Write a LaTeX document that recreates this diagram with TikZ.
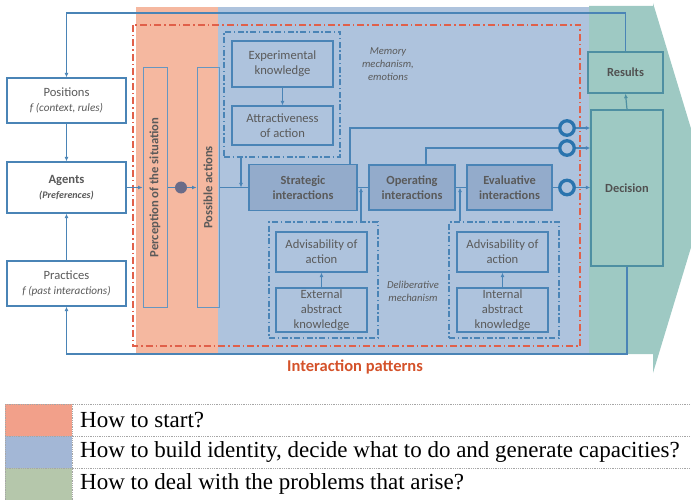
\documentclass[tikz,border=0pt]{standalone}
\usepackage{fontspec}
\setmainfont{Carlito}
\newfontfamily\legendfont{Liberation Serif}
\usetikzlibrary{arrows.meta}
\definecolor{bgorange}{HTML}{F5B8A0}
\definecolor{bgblue}{HTML}{AEC3DD}
\definecolor{bggreen}{HTML}{9EC9C3}
\definecolor{lineblue}{HTML}{4A84B6}
\definecolor{darkblue}{HTML}{2A74AE}
\definecolor{boxdark}{HTML}{93ABCB}
\definecolor{txtgray}{HTML}{5A5A5A}
\definecolor{redline}{HTML}{E0604A}
\definecolor{tealline}{HTML}{4E8FA2}
\definecolor{dotcol}{HTML}{6A6B88}
\definecolor{legorange}{HTML}{F2A08A}
\definecolor{legblue}{HTML}{A3B7D6}
\definecolor{leggreen}{HTML}{B5C7AB}
\definecolor{patterncol}{HTML}{D4522A}
\tikzset{
  box/.style={draw=lineblue, line width=1.3, inner sep=0, align=center, text=txtgray,
    font=\fontsize{12.6}{15}\selectfont},
  whitebox/.style={box, fill=white},
  darkbox/.style={box, fill=boxdark, line width=1.6, font=\bfseries\fontsize{12.4}{14.5}\selectfont},
  tealbox/.style={draw=tealline, line width=1.3, inner sep=0, text=txtgray!90!black,
    font=\bfseries\fontsize{12.4}{14}\selectfont},
  tallbox/.style={draw=lineblue!85, line width=1, inner sep=0},
  rottext/.style={rotate=90, text=txtgray, font=\bfseries\fontsize{12.6}{14}\selectfont},
  dashbox/.style={draw=lineblue, line width=1.1, dash pattern=on 6pt off 2.5pt on 1.5pt off 2.5pt, inner sep=0},
  note/.style={align=center, text=txtgray, font=\itshape\fontsize{10.6}{13}\selectfont},
  conn/.style={draw=lineblue, line width=1.2},
  arr/.style={conn, -{Latex[length=4.5pt,width=4pt]}},
  ring/.style={circle, draw=darkblue, line width=3.3, fill=bgblue, minimum size=14.5, inner sep=0},
  swatch/.style={inner sep=0, minimum width=67, minimum height=32},
  legtext/.style={anchor=west, inner sep=0, font=\legendfont\fontsize{23}{25}\selectfont},
  legline/.style={draw=gray!70, densely dotted, line width=0.8},
}
\begin{document}
\begin{tikzpicture}[x=1pt,y=-1pt]
\useasboundingbox (0,0) rectangle (691,500);
% backgrounds
\begin{scope}
\clip (0,0) rectangle (691,500);
\fill[bggreen] (589,6) -- (653,6) -- (653,3) -- (709,188) -- (653,373) -- (653,354) -- (589,354) -- cycle;
\end{scope}
\fill[bgorange] (136,7) rectangle (218,354);
\fill[bgblue] (218,7) rectangle (589,354);
\draw[redline, line width=1.1, dash pattern=on 7pt off 3pt on 1.5pt off 3pt] (133,25) rectangle (580,346);

% dashed groups
\node[dashbox, minimum width=116, minimum height=125] (mem) at (282,94.5) {};
\node[dashbox, minimum width=109, minimum height=116] (delL) at (323.5,280) {};
\node[dashbox, minimum width=110, minimum height=116] (delR) at (504,280) {};

% left boxes
\node[whitebox, minimum width=119, minimum height=45] (pos) at (66.5,100.5)
  {Positions\\{\itshape\fontsize{11.2}{13}\selectfont f (context, rules)}};
\node[whitebox, minimum width=119, minimum height=51] (agents) at (66.5,187.5)
  {\textbf{Agents}\\{\bfseries\itshape\fontsize{10}{13}\selectfont (Preferences)}};
\node[whitebox, minimum width=119, minimum height=45] (prac) at (66.5,283.5)
  {Practices\\{\itshape\fontsize{11.2}{13}\selectfont f (past interactions)}};

% tall boxes
\node[tallbox, minimum width=24, minimum height=239] (perc) at (155,187.5) {};
\node[rottext] (percT) at (perc.center) {Perception of the situation};
\node[tallbox, minimum width=22, minimum height=239] (poss) at (208,187.5) {};
\node[rottext] (possT) at (poss.center) {Possible actions};
\node[circle, fill=dotcol, minimum size=12, inner sep=0] (dot) at (181,187.5) {};

% memory group
\node[box, minimum width=101, minimum height=46] (exp) at (282.5,64) {Experimental\\knowledge};
\node[box, minimum width=101, minimum height=39] (attr) at (282.5,125.5) {Attractiveness\\of action};
\node[note] (memT) at (388,64) {Memory\\mechanism,\\emotions};

% interactions
\node[darkbox, minimum width=108, minimum height=46] (strat) at (303,187.5) {Strategic\\interactions};
\node[darkbox, minimum width=86, minimum height=45] (oper) at (412,187.5) {Operating\\interactions};
\node[darkbox, minimum width=85, minimum height=45] (eval) at (509.5,187.5) {Evaluative\\interactions};

% deliberative groups
\node[box, minimum width=91, minimum height=40] (advL) at (321.5,252) {Advisability of\\action};
\node[box, minimum width=91, minimum height=44] (ext) at (321.5,310) {External\\abstract\\knowledge};
\node[box, minimum width=91, minimum height=40] (advR) at (502.5,252) {Advisability of\\action};
\node[box, minimum width=91, minimum height=44] (int) at (502.5,310) {Internal\\abstract\\knowledge};
\node[note] (delT) at (413,291) {Deliberative\\mechanism};

% right boxes
\node[tealbox, minimum width=72, minimum height=156] (dec) at (627,188) {Decision};
\node[tealbox, minimum width=75, minimum height=41] (res) at (625.5,72.5) {Results};

% rings
\node[ring] (c1) at (567,128) {};
\node[ring] (c2) at (567,148) {};
\node[ring] (c3) at (567,187.5) {};

% title
\node[text=patterncol, font=\bfseries\fontsize{16.5}{18}\selectfont] (title) at (355,367) {Interaction patterns};

% coordinates
\coordinate (tr) at (625.5,13);
\coordinate (tl) at (66.5,13);
\coordinate (br) at (627,354);
\coordinate (bl) at (66.5,354);
\coordinate (m1) at (241,187.5);
\coordinate (s1) at (361,187.5);
\coordinate (s2) at (460,187.5);
\coordinate (st) at (350,128);
\coordinate (ot) at (426,148);

% connectors
\draw[arr] (res.north) -- (tr) -- (tl) -- (pos.north);
\draw[arr] (dec.south) -- (br) -- (bl) -- (prac.south);
\draw[arr] (pos.south) -- (agents.north);
\draw[arr] (prac.north) -- (agents.south);
\draw[arr] (agents.east) -- (perc.west);
\draw[conn] (perc.east) -- (dot);
\draw[arr] (dot) -- (poss.west);
\draw[conn] (poss.east) -- (strat.west);
\draw[arr] (m1 |- mem.south) -- (m1);
\draw[arr] (exp.south) -- (attr.north);
\draw[conn] (strat.east) -- (oper.west);
\draw[conn] (oper.east) -- (eval.west);
\draw[arr] (s1 |- delL.north) -- (s1);
\draw[arr] (s2 |- delR.north) -- (s2);
\draw[arr] (ext.north) -- (advL.south);
\draw[arr] (int.north) -- (advR.south);
\draw[conn, line width=1.5] (st |- strat.north) -- (st) -- (c1.west);
\draw[conn, line width=1.5] (ot |- oper.north) -- (ot) -- (c2.west);
\draw[conn, line width=1.5] (eval.east) -- (c3.west);
\draw[arr] (c1.east) -- (c1.east -| dec.west);
\draw[arr] (c2.east) -- (c2.east -| dec.west);
\draw[arr] (c3.east) -- (c3.east -| dec.west);
\draw[arr, draw=tealline] (dec.north) -- (res.south);

% legend
\node[swatch, fill=legorange] (sw1) at (38.5,420) {};
\node[swatch, fill=legblue] (sw2) at (38.5,452) {};
\node[swatch, fill=leggreen] (sw3) at (38.5,484) {};
\draw[legline] (5,404) -- (691,404);
\draw[legline] (5,436) -- (691,436);
\draw[legline] (5,468) -- (691,468);
\draw[legline] (5,404) -- (5,500);
\draw[legline] (72,404) -- (72,500);
\node[legtext] (leg1) at (80,420) {How to start?};
\node[legtext] (leg2) at (80,452) {How to build identity, decide what to do and generate capacities?};
\node[legtext] (leg3) at (80,484) {How to deal with the problems that arise?};
\end{tikzpicture}
\end{document}
